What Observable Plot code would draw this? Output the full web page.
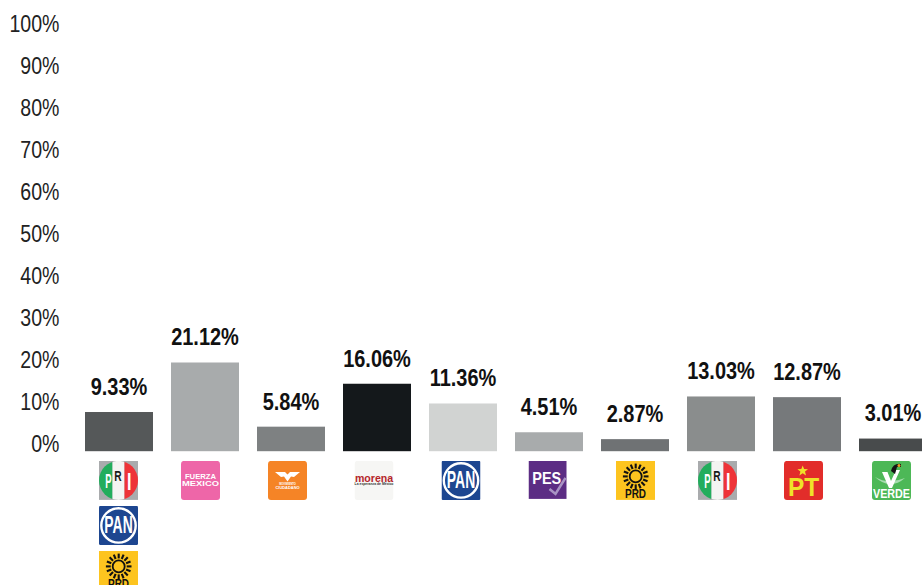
<!DOCTYPE html>
<html>
<head>
<meta charset="utf-8">
<script src="https://cdn.jsdelivr.net/npm/d3@7"></script>
<script src="https://cdn.jsdelivr.net/npm/@observablehq/plot@0.6"></script>
<style>
html,body{margin:0;padding:0;background:#fff;overflow:hidden}
svg{display:block}
</style>
</head>
<body>
<div id="chart"></div>
<script>
const parties = ["PRI-PAN-PRD","FUERZA MÉXICO","MC","MORENA","PAN","PES","PRD","PRI","PT","VERDE"];
const shares = [9.33,21.12,5.84,16.06,11.36,4.51,2.87,13.03,12.87,3.01];
const barColors = ["#555859","#a8abac","#7e8182","#14181b","#d1d3d2","#a8abac","#6f7274","#8a8d8d","#76797b","#484b4c"];
const yTicks = [0,10,20,30,40,50,60,70,80,90,100];

const rows = parties.map((party,i)=>({party,share:shares[i]}));
const font = "'Liberation Sans',Arial,sans-serif";

// Logo artwork (shapes only; every word is a real text mark further down)
const sunRays = Array.from({length:16},(_,k)=>{
  const a=k*Math.PI/8, c=Math.cos(a), s=Math.sin(a);
  return `<line x1="${19.7+8*c}" y1="${15.5+8*s}" x2="${19.7+12.8*c}" y2="${15.5+12.8*s}" stroke="#111" stroke-width="2.1"/>`;
}).join("");
const art = {
  PRI:`<rect width="39" height="39" fill="#a9abad"/><clipPath id="c"><circle cx="19.5" cy="19.5" r="19.5"/></clipPath><g clip-path="url(#c)"><rect width="13.5" height="39" fill="#22ad5c"/><rect x="13.5" width="12" height="39" fill="#f4f4f2"/><rect x="25.5" width="13.5" height="39" fill="#ee3338"/></g>`,
  PAN:`<rect width="39" height="39" rx="1.5" fill="#1d4690"/><circle cx="19.5" cy="19.5" r="17.2" fill="none" stroke="#fff" stroke-width="2.4"/>`,
  PRD:`<rect width="39" height="39" fill="#fdc41f"/>${sunRays}<circle cx="19.7" cy="15.5" r="6" fill="none" stroke="#111" stroke-width="1.8"/>`,
  FM:`<rect width="39" height="39" rx="3" fill="#ee66a8"/>`,
  MC:`<rect width="39" height="39" rx="3" fill="#f58426"/><path d="M7 11L17 11L19.5 13.5L22 11L32 11L26 16L23 15.5L19.5 20.5L16 15.5L13 16Z" fill="#fff"/>`,
  MOR:`<rect width="39" height="39" rx="3" fill="#f6f6f4"/>`,
  PES:`<rect width="38" height="38" fill="#5c2d84"/><path d="M21 28L27 33L37 17" fill="none" stroke="#a893c4" stroke-width="2.6"/>`,
  PT:`<rect width="39" height="39" rx="3" fill="#e22d2a"/><path d="M18.7 4.5L20.1 8.1L24 8.3L21 10.7L22 14.5L18.7 12.4L15.4 14.5L16.4 10.7L13.4 8.3L17.3 8.1Z" fill="#f0e229"/>`,
  VER:`<rect width="39" height="39" rx="3" fill="#4db857"/><path d="M3 16Q16 24 33 17Q18 30 3 16Z" fill="#a6dcae"/><path d="M10 11L15.5 11L19 20L24 9L28 9L20 27L17 27Z" fill="#fff"/><path d="M19 10Q21 2 29 3L29 6L25 6L23 13Z" fill="#141414"/><circle cx="27" cy="4.5" r="1.5" fill="#f0a020"/>`
};
const src = k => "data:image/svg+xml," + encodeURIComponent(
  `<svg xmlns="http://www.w3.org/2000/svg" width="39" height="39" viewBox="0 0 39 39">${art[k]}</svg>`);

// word, x and y inside the logo, size, colour, horizontal squeeze
const priWords = [["P",9.3,20,21,"#fff",.45],["R",19,15,15,"#1a1a1a",.68],["I",30.3,21,24,"#fff",.67]];
const panWords = [["PAN",19.5,19.8,24,"#fff",.58]];
const prdWords = [["PRD",19.5,33,12,"#111",.83]];
const logos = [
 {party:"PRI-PAN-PRD",art:"PRI",row:0,nudge:-1,words:priWords},
 {party:"PRI-PAN-PRD",art:"PAN",row:1,nudge:-1,words:panWords},
 {party:"PRI-PAN-PRD",art:"PRD",row:2,nudge:-1,words:prdWords},
 {party:"FUERZA MÉXICO",art:"FM",row:0,nudge:-5,words:[["FUERZA",19.5,15.5,7,"#fff",1.1],["MEXICO",19.5,23,7.5,"#fff",1.25]]},
 {party:"MC",art:"MC",row:0,nudge:-4,words:[["MOVIMIENTO",19.5,23,2.6,"#fff",1],["CIUDADANO",19.5,26.5,3.6,"#fff",1.1]]},
 {party:"MORENA",art:"MOR",row:0,nudge:-3.5,words:[["morena",19.5,17.5,11.5,"#b5262b",.92],["La esperanza de México",19.5,23.5,3.4,"#333",1]]},
 {party:"PAN",art:"PAN",row:0,nudge:-2.5,words:panWords},
 {party:"PES",art:"PES",row:0,nudge:-1.5,words:[["PES",18.3,18,17,"#fff",.85]]},
 {party:"PRD",art:"PRD",row:0,nudge:0,words:prdWords},
 {party:"PRI",art:"PRI",row:0,nudge:-4,words:priWords},
 {party:"PT",art:"PT",row:0,nudge:-4,words:[["PT",19.5,26.5,26,"#f0e229",.94]]},
 {party:"VERDE",art:"VER",row:0,nudge:-2,words:[["VERDE",19.5,33,12.5,"#fff",.86]]}
];
const logoTop = 9.2, logoSize = 39, rowStep = 45;

const squeeze = f => (i,s,v,d,c,next)=>{ const g = next(i,s,v,d,c); g.setAttribute("data-squeeze",f); return g; };

const logoMarks = logos.flatMap(l=>{
  const top = logoTop + l.row*rowStep;
  return [
    Plot.image([l],{x:"party",y:()=>0,src:()=>src(l.art),width:logoSize,height:logoSize,
      dx:l.nudge,dy:top+logoSize/2}),
    ...l.words.map(([t,fx,fy,size,fill,f])=>
      Plot.text([l],{x:"party",y:()=>0,text:()=>t,fontSize:size,fill,fontFamily:font,fontWeight:"bold",
        textAnchor:"middle",lineAnchor:"middle",render:squeeze(f),
        dx:l.nudge+fx-logoSize/2,dy:top+fy}))
  ];
});

const chart = Plot.plot({
  width:922,height:585,marginLeft:85,marginRight:-5,marginTop:0,marginBottom:0,
  style:{background:"#fff",fontFamily:font},
  x:{type:"band",domain:parties,range:[85,927],paddingInner:18/86,paddingOuter:0,round:false,axis:null},
  y:{domain:[0,100],range:[451.2,31.2],axis:null},
  color:{domain:parties,range:barColors},
  marks:[
    Plot.barY(rows,{x:"party",y:"share",fill:"party"}),
    Plot.axisY({ticks:yTicks,tickSize:0,tickPadding:26,dy:-7.5,anchor:"left",label:null,
      tickFormat:d=>d+"%",fontSize:23,fontFamily:font,fill:"#222"}),
    Plot.text(rows,{x:"party",y:"share",text:d=>d.share.toFixed(2)+"%",dy:-25.2,dx:-0.5,
      fontSize:23.5,fontWeight:"bold",fontFamily:font,fill:"#111",lineAnchor:"middle"}),
    ...logoMarks
  ]
});
document.getElementById("chart").appendChild(chart);

// The source type is a condensed sans: squeeze each label horizontally, keeping it real text.
chart.querySelectorAll("text").forEach(t=>{
  const host = t.closest("[data-squeeze]");
  const f = host ? +host.getAttribute("data-squeeze") : 0.85;
  t.setAttribute("textLength", t.getComputedTextLength()*f);
  t.setAttribute("lengthAdjust","spacingAndGlyphs");
});
</script>
</body>
</html>
